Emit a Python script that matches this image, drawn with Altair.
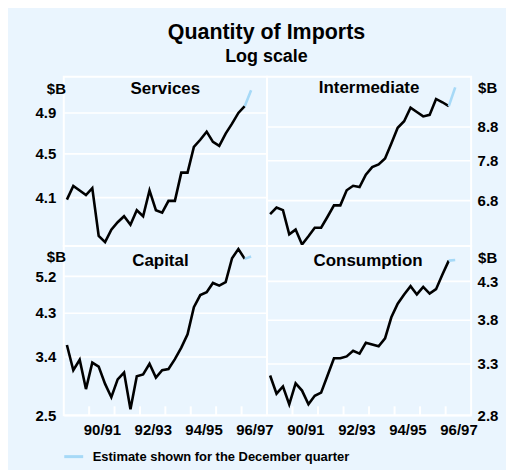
import altair as alt
import pandas as pd

# ---- data ----
quarters = [str(p) for p in pd.period_range("1989Q3", "1996Q4", freq="Q")]  # Sep-89 ... Dec-96
estimate_quarter = "1996Q4"

services = [4.08, 4.20, 4.16, 4.12, 4.18, 3.78, 3.73, 3.83, 3.89, 3.94,
            3.87, 3.99, 3.94, 4.16, 3.99, 3.97, 4.07, 4.07, 4.32, 4.32,
            4.56, 4.63, 4.71, 4.61, 4.57, 4.69, 4.79, 4.90, 4.97]
services_est = 5.14
intermediate = [6.48, 6.63, 6.57, 6.04, 6.14, 5.83, 6.00, 6.18, 6.18, 6.42,
                6.68, 6.68, 7.04, 7.15, 7.12, 7.43, 7.63, 7.70, 7.86, 8.28,
                8.75, 8.95, 9.38, 9.24, 9.10, 9.15, 9.67, 9.56, 9.43]
intermediate_est = 10.07
capital = [3.62, 3.17, 3.35, 2.87, 3.30, 3.23, 2.95, 2.75, 3.02, 3.13,
           2.58, 3.07, 3.10, 3.28, 3.05, 3.17, 3.19, 3.36, 3.57, 3.83,
           4.42, 4.71, 4.78, 5.02, 4.95, 5.04, 5.72, 6.00, 5.70]
capital_est = 5.77
consumption = [3.18, 3.00, 3.07, 2.90, 3.10, 3.03, 2.90, 2.98, 3.01, 3.18,
               3.36, 3.36, 3.38, 3.44, 3.41, 3.53, 3.51, 3.49, 3.58, 3.83,
               4.00, 4.12, 4.23, 4.12, 4.22, 4.13, 4.19, 4.39, 4.59]
consumption_est = 4.60

services_ticks = [4.1, 4.5, 4.9]
intermediate_ticks = [6.8, 7.8, 8.8]
capital_ticks = [2.5, 3.4, 4.3, 5.2]
consumption_ticks = [2.8, 3.3, 3.8, 4.3]

services_domain = [3.70, 5.29]
intermediate_domain = [5.80, 10.45]
capital_domain = [2.5, 6.10]
consumption_domain = [2.8, 4.81]

fiscal_year_starts = ["1990-07-01", "1991-07-01", "1992-07-01", "1993-07-01",
                      "1994-07-01", "1995-07-01", "1996-07-01"]
label_years = [1991, 1993, 1995, 1997]
legend_label = "Estimate shown for the December quarter"
unit_label = "$B"

# ---- styling ----
FONT = "Liberation Sans"
BG = "#EAF5FE"
EST = "#A6D9F7"
W_L, W_R, H = 204, 205, 170
TICK_FS = 15


def mid_date(q):
    p = pd.Period(q, freq="Q")
    return (p.start_time + pd.Timedelta(days=45)).strftime("%Y-%m-%d")


dates = [mid_date(q) for q in quarters]
est_date = mid_date(estimate_quarter)
black_dates = dates[:-1]

x_scale = alt.Scale(type="utc",
                    domain=[alt.DateTime(year=1989, month=7, date=1, utc=True),
                            alt.DateTime(year=1997, month=7, date=1, utc=True)])

x_axis = alt.Axis(
    values=[alt.DateTime(year=y, month=1, date=1, utc=True) for y in label_years],
    labelExpr="utcFormat(datetime(utcyear(datum.value) - 1, 0, 1), '%y') + '/' + utcFormat(datum.value, '%y')",
    ticks=False, domain=False, grid=False, title=None,
    labelFont=FONT, labelFontSize=TICK_FS, labelFontWeight="bold", labelColor="black",
    labelPadding=7, labelAlign="center", labelFlush=False, labelOverlap=False,
)


def panel(name, vals, est, domain, ticks, side, bottom, w, title_dx, title_y, unit_y):
    df = pd.DataFrame({"date": black_dates, "value": vals})
    edf = pd.DataFrame({"date": [black_dates[-1], est_date],
                        "value": [vals[-1], est],
                        "kind": [legend_label, legend_label]})
    xenc = alt.X("date:T", scale=x_scale, axis=x_axis if bottom else None)
    yaxis = alt.Axis(
        orient=side, values=ticks, format=".1f", ticks=False, domain=False,
        grid=True, gridColor="white", gridWidth=1.6,
        labelFont=FONT, labelFontSize=TICK_FS, labelFontWeight="bold", labelColor="black",
        labelPadding=8 if side == "left" else 6, labelOverlap=False, title=None,
    )
    yenc = alt.Y("value:Q", scale=alt.Scale(type="log", domain=domain, nice=False, zero=False),
                 axis=yaxis)
    line = alt.Chart(df).mark_line(color="black", strokeWidth=2.6).encode(x=xenc, y=yenc)
    est_line = alt.Chart(edf).mark_line(strokeWidth=2.6).encode(
        x=xenc, y=yenc,
        color=alt.Color("kind:N", scale=alt.Scale(range=[EST]),
                        legend=alt.Legend(
                            orient="none", legendX=-1, legendY=370.5, title=None,
                            symbolType="stroke", symbolStrokeWidth=3, symbolSize=361,
                            labelFont=FONT, labelFontSize=13, labelFontWeight="bold",
                            labelColor="black", labelOffset=8, labelLimit=500, padding=0)))
    title = alt.Chart(pd.DataFrame({"t": [name]})).mark_text(
        font=FONT, fontSize=17, fontWeight="bold", color="black", baseline="middle", align="center"
    ).encode(text="t:N", x=alt.value(w / 2 + title_dx), y=alt.value(title_y))
    unit = alt.Chart(pd.DataFrame({"u": [unit_label]})).mark_text(
        font=FONT, fontSize=TICK_FS, fontWeight="bold", color="black", baseline="middle", align="left"
    ).encode(text="u:N", x=alt.value(-17 if side == "left" else w + 7), y=alt.value(unit_y))
    layers = [line, est_line, title, unit]
    if bottom:
        tdf = pd.DataFrame({"date": fiscal_year_starts})
        tick_rules = alt.Chart(tdf).mark_rule(color="white", strokeWidth=2).encode(
            x=alt.X("date:T", scale=x_scale, axis=x_axis),
            y=alt.value(H), y2=alt.value(H - 9))
        layers.append(tick_rules)
    return alt.layer(*layers).properties(width=w, height=H)


p1 = panel("Services", services, services_est, services_domain, services_ticks, "left", False, W_L, 0, 12.5, 12.5)
p2 = panel("Intermediate", intermediate, intermediate_est, intermediate_domain, intermediate_ticks, "right", False, W_R, 0, 11.5, 11.5)
p3 = panel("Capital", capital, capital_est, capital_domain, capital_ticks, "left", True, W_L, -5, 15.5, 11.5)
p4 = panel("Consumption", consumption, consumption_est, consumption_domain, consumption_ticks, "right", True, W_R, -1, 15.5, 12.5)

chart = alt.concat(p1, p2, p3, p4, columns=2, spacing=0, bounds="flush").properties(
    title=alt.TitleParams(
        text="Quantity of Imports", subtitle="Log scale", anchor="middle",
        font=FONT, fontSize=21.5, fontWeight="bold", color="black",
        subtitleFont=FONT, subtitleFontSize=18, subtitleFontWeight="bold", subtitleColor="black",
        subtitlePadding=4.5, offset=10, dx=0,
    ),
    background=BG,
    padding={"left": 26, "top": 13, "right": 7, "bottom": 6},
).configure_view(stroke="white", strokeWidth=2).configure_concat(spacing=0)

chart.save("out.html", embed_options={"renderer": "svg", "actions": False})
